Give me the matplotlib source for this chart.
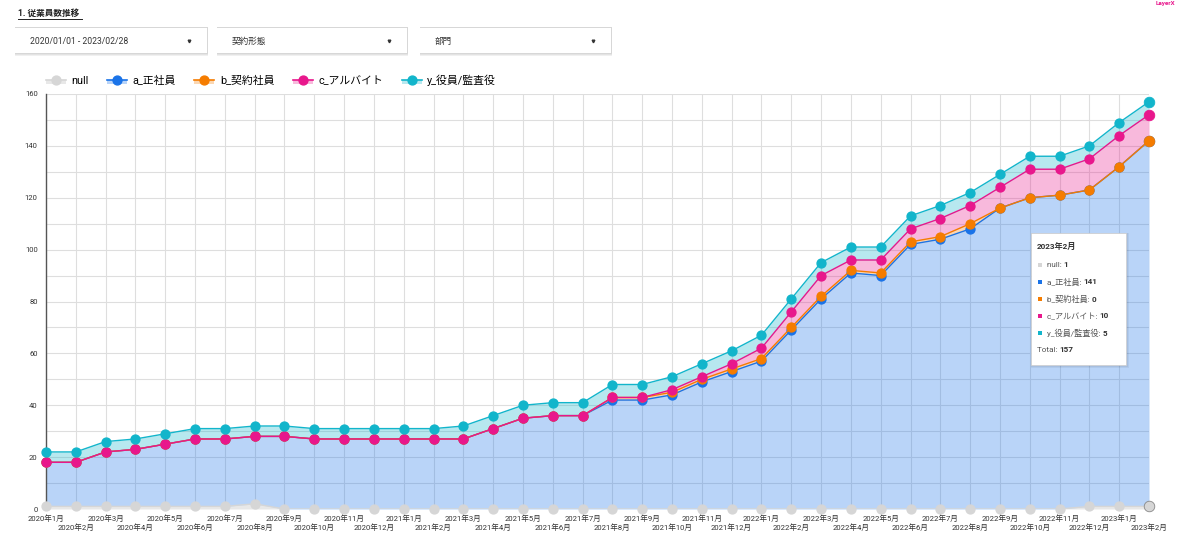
import numpy as np
import matplotlib
matplotlib.use('Agg')
import matplotlib.pyplot as plt
from matplotlib.patches import Rectangle
from matplotlib.lines import Line2D
from matplotlib.legend_handler import HandlerPatch, HandlerTuple

plt.rcParams['font.family'] = ['Roboto', 'Noto Sans CJK JP', 'DejaVu Sans']

# 月ラベル 2020/1 - 2023/2
months = [f'{yy}年{mm}月' for yy in (2020, 2021, 2022) for mm in range(1, 13)] + ['2023年1月', '2023年2月']

series_names = ['null', 'a_正社員', 'b_契約社員', 'c_アルバイト', 'y_役員/監査役']
null_cnt = [1, 1, 1, 1, 1, 1, 1, 2, 0, 0, 0, 0, 0, 0, 0, 0, 0, 0, 0,
            0, 0, 0, 0, 0, 0, 0, 0, 0, 0, 0, 0, 0, 0, 0, 0, 1, 1, 1]
seishain = [17, 17, 21, 22, 24, 26, 26, 26, 28, 27, 27, 27, 27, 27, 27, 31, 35, 36, 36,
            42, 42, 44, 49, 53, 57, 69, 81, 91, 90, 102, 104, 108, 116, 120, 121, 122, 131, 141]
keiyaku = [0, 0, 0, 0, 0, 0, 0, 0, 0, 0, 0, 0, 0, 0, 0, 0, 0, 0, 0,
           1, 1, 1, 1, 1, 1, 1, 1, 1, 1, 1, 1, 2, 0, 0, 0, 0, 0, 0]
arbeit = [0, 0, 0, 0, 0, 0, 0, 0, 0, 0, 0, 0, 0, 0, 0, 0, 0, 0, 0,
          0, 0, 1, 1, 2, 4, 6, 8, 4, 5, 5, 7, 7, 8, 11, 10, 12, 12, 10]
yakuin = [4, 4, 4, 4, 4, 4, 4, 4, 4, 4, 4, 4, 4, 4, 5, 5, 5, 5, 5,
          5, 5, 5, 5, 5, 5, 5, 5, 5, 5, 5, 5, 5, 5, 5, 5, 5, 5, 5]

colors = ['#d6d6d6', '#1a73e8', '#f57c00', '#e8178c', '#12b5cb']

W, H = 1200, 544


def fx(x):
    return x / W


def fy(y):
    return 1 - y / H


fig = plt.figure(figsize=(W / 100, H / 100), dpi=100)
fig.patch.set_facecolor('white')

# --- header ---
fig.text(fx(18), fy(13), '1. 従業員数推移', size=6.2, weight='bold', color='#222', va='center', ha='left')
fig.add_artist(Line2D([fx(18), fx(82)], [fy(18.5), fy(18.5)], color='#222', lw=0.7, transform=fig.transFigure))
fig.text(fx(1165), fy(3), 'LayerX', size=4.5, weight='bold', color='#e8178c', va='center', ha='center')

boxes = [(15, 207, '2020/01/01 - 2023/02/28'), (217, 407, '契約形態'), (420, 611, '部門')]
for x0, x1, label in boxes:
    for k, a in enumerate([0.05, 0.05, 0.06]):
        fig.add_artist(Rectangle((fx(x0 - 0.5), fy(54 + k)), (x1 - x0 + 1) / W, (27 + k) / H,
                                 transform=fig.transFigure, fc='#000', ec='none', alpha=a))
    fig.add_artist(Rectangle((fx(x0), fy(53)), (x1 - x0) / W, 25 / H,
                             transform=fig.transFigure, fc='white', ec='none'))
    fig.text(fx(x0 + 15), fy(41), label, size=6.2, color='#333', va='center', ha='left')
    fig.add_artist(Line2D([fx(x1 - 18)], [fy(41)], marker='v', ms=1.9, color='#333', lw=0,
                          transform=fig.transFigure))

# --- chart ---
ax = fig.add_axes([fx(46), fy(509), (1149 - 46) / W, (509 - 94) / H])
x = np.arange(len(months))
stack = np.array([null_cnt, seishain, keiyaku, arbeit, yakuin], dtype=float)
tops = np.cumsum(stack, axis=0)
bottoms = tops - stack

for i, col in enumerate(colors):
    alpha = 0.55 if i == 0 else 0.3
    ax.fill_between(x, bottoms[i], tops[i], color=col, alpha=alpha, lw=0, zorder=1 + i * 0.1)
for i, col in enumerate(colors):
    ax.plot(x, tops[i], color=col, lw=1.0, zorder=3 + i)
    ax.plot(x[:-1], tops[i][:-1], ls='none', marker='o', ms=6.4, color=col, mec=col, zorder=3.5 + i,
            clip_on=False)
    ax.plot(x[-1:], tops[i][-1:], ls='none', marker='o', ms=7.6, color=col, mec='#888888' if i == 0 else col,
            mew=0.6, zorder=3.5 + i, clip_on=False)

ax.set_xlim(0, len(months) - 1)
ax.set_ylim(0, 160)
ax.set_yticks(np.arange(0, 161, 20))
ax.set_yticks(np.arange(10, 160, 20), minor=True)
# 月ラベルは2段に振り分け
ax.set_xticks(x[::2])
ax.set_xticklabels(months[::2])
ax.set_xticks(x[1::2], minor=True)
ax.set_xticklabels(months[1::2], minor=True)
ax.tick_params(axis='both', which='both', length=0, labelsize=5.5, labelcolor='#333')
ax.tick_params(axis='y', pad=6)
ax.tick_params(axis='x', which='major', pad=3.5)
ax.tick_params(axis='x', which='minor', pad=10.5)
ax.grid(True, which='both', color='#dedede', lw=0.8)
ax.set_axisbelow(True)
for s in ['top', 'right', 'bottom']:
    ax.spines[s].set_visible(False)
ax.spines['left'].set_color('#555')
ax.spines['left'].set_linewidth(1)
ax.set_facecolor('white')


# --- legend ---
def half_rect(legend, orig_handle, xdescent, ydescent, width, height, fontsize):
    return Rectangle((-xdescent, -ydescent), width, height / 2)


handles = []
for i, col in enumerate(colors):
    rect = Rectangle((0, 0), 1, 1, fc=col, alpha=0.3 if i else 0.55, ec='none')
    line = Line2D([], [], color=col, lw=1.2, marker='o', ms=6.4)
    handles.append((rect, line))
fig.legend(handles, series_names, loc='center left', bbox_to_anchor=(fx(46), fy(80)), ncol=5,
           frameon=False, fontsize=7.8, handlelength=1.85, handletextpad=0.5, columnspacing=1.7,
           borderpad=0, borderaxespad=0, numpoints=1,
           handler_map={tuple: HandlerTuple(ndivide=1), Rectangle: HandlerPatch(patch_func=half_rect)})

# --- tooltip ---
tx0, tx1, ty0, ty1 = 1031, 1126, 233, 365
for k, a in enumerate([0.05, 0.05, 0.05]):
    fig.add_artist(Rectangle((fx(tx0 - 0.5), fy(ty1 + 1 + k)), (tx1 - tx0 + 1 + k) / W, (ty1 - ty0 + 1 + k) / H,
                             transform=fig.transFigure, fc='#000', ec='none', alpha=a, zorder=10))
fig.add_artist(Rectangle((fx(tx0), fy(ty1)), (tx1 - tx0) / W, (ty1 - ty0) / H,
                         transform=fig.transFigure, fc='white', ec='#d0d0d0', lw=0.5, zorder=11))
fig.text(fx(1037), fy(246), months[-1], size=5.9, weight='bold', color='#333', va='center', zorder=12)
renderer = fig.canvas.get_renderer()
vals = [int(s[-1]) for s in stack]
rows_y = [265, 282, 299, 316, 333]
for i, (name, v, yy) in enumerate(zip(series_names, vals, rows_y)):
    fig.add_artist(Rectangle((fx(1038), fy(yy + 2)), 4 / W, 4 / H, transform=fig.transFigure,
                             fc=colors[i], ec='none', zorder=12))
    t = fig.text(fx(1047), fy(yy), name + ': ', size=5.9, color='#555', va='center', zorder=12)
    bb = t.get_window_extent(renderer)
    fig.text(bb.x1 / W, fy(yy), str(v), size=5.9, weight='bold', color='#333', va='center', zorder=12)
t = fig.text(fx(1037), fy(350), 'Total: ', size=5.9, color='#555', va='center', zorder=12)
bb = t.get_window_extent(renderer)
fig.text(bb.x1 / W, fy(350), str(int(tops[-1][-1])), size=5.9, weight='bold', color='#333', va='center',
         zorder=12)

fig.savefig('out.png', dpi=100)
